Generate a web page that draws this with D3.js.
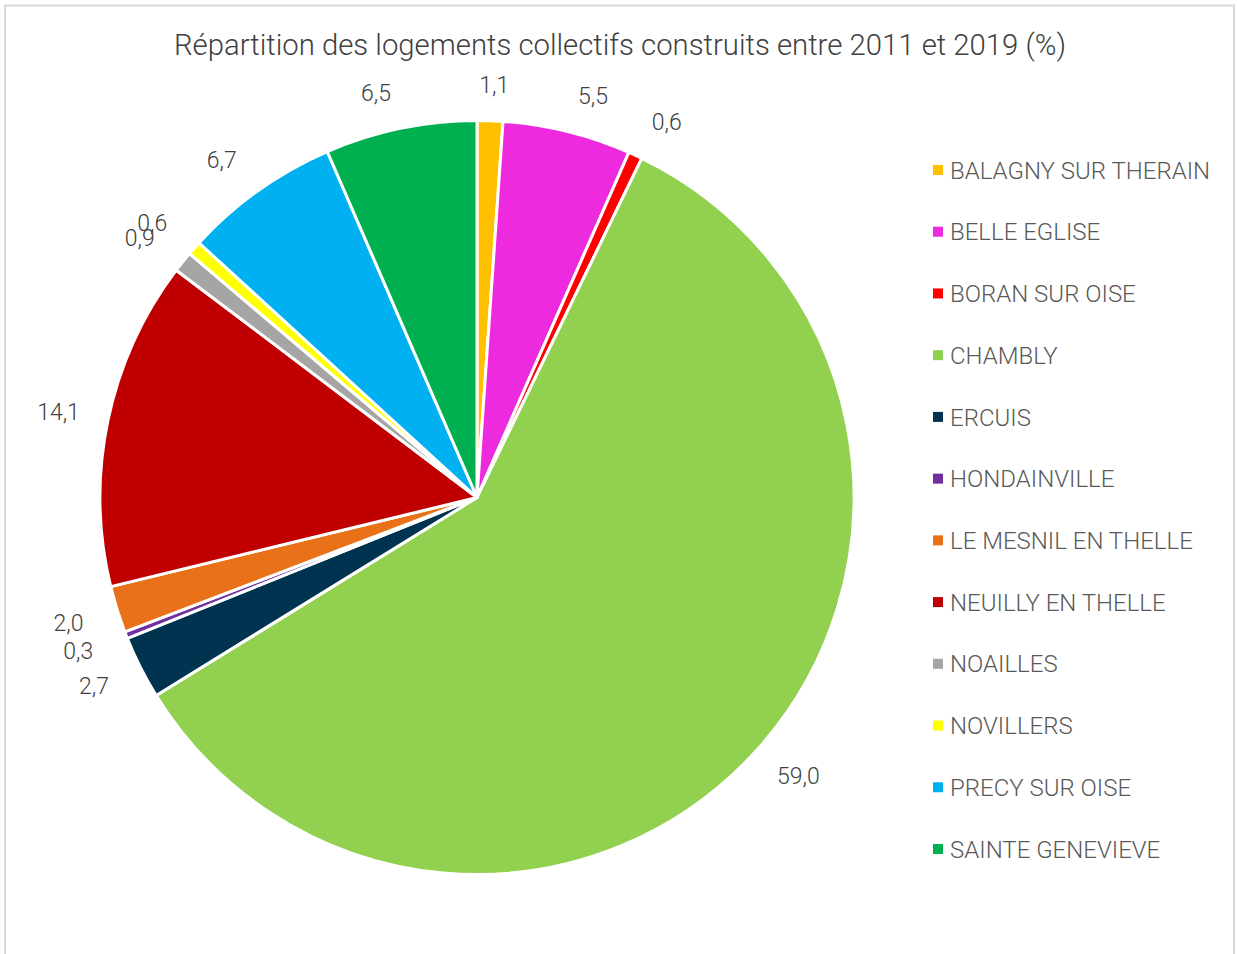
<!DOCTYPE html>
<html>
<head>
<meta charset="utf-8">
<script src="https://cdn.jsdelivr.net/npm/d3@7"></script>
<style>
  body { margin: 0; background: #fff; }
  text { font-family: Roboto, "Noto Sans", sans-serif; font-weight: 300; }
</style>
</head>
<body>
<div id="chart"></div>
<script>
var communes = ["BALAGNY SUR THERAIN", "BELLE EGLISE", "BORAN SUR OISE", "CHAMBLY", "ERCUIS",
  "HONDAINVILLE", "LE MESNIL EN THELLE", "NEUILLY EN THELLE", "NOAILLES", "NOVILLERS",
  "PRECY SUR OISE", "SAINTE GENEVIEVE"];
var parts = [1.1, 5.5, 0.6, 59.0, 2.7, 0.3, 2.0, 14.1, 0.9, 0.6, 6.7, 6.5];
var couleurs = ["#ffc000", "#ee2ade", "#ff0000", "#92d050", "#003350", "#7030a0",
  "#e97119", "#c00000", "#a5a5a5", "#ffff00", "#00b0f0", "#00b050"];
var titre = "Répartition des logements collectifs construits entre 2011 et 2019 (%)";

var width = 1237, height = 954;
var cx = 477, cy = 497.5, r = 377;

var svg = d3.select("#chart").append("svg")
  .attr("width", width)
  .attr("height", height);

// cadre du graphique
svg.append("rect")
  .attr("x", 5).attr("y", 5.5)
  .attr("width", 1229).attr("height", 1000)
  .style("fill", "#fff")
  .style("stroke", "#d9d9d9")
  .style("stroke-width", 2);

svg.append("text")
  .attr("x", 620).attr("y", 55)
  .attr("text-anchor", "middle")
  .style("font-size", "29.3px")
  .style("fill", "#404040")
  .text(titre);

var color = d3.scaleOrdinal().domain(communes).range(couleurs);

var pie = d3.pie().sort(null).value(function(d) { return d.v; });
var data = communes.map(function(c, i) { return { nom: c, v: parts[i] }; });
var arcs = pie(data);

var arc = d3.arc().innerRadius(0).outerRadius(r);

var g = svg.append("g").attr("transform", "translate(" + cx + "," + cy + ")");

g.selectAll(".part")
  .data(arcs)
  .enter().append("path")
  .attr("class", "part")
  .attr("d", arc)
  .style("fill", function(d) { return color(d.data.nom); })
  .style("stroke", "#fff")
  .style("stroke-width", 3)
  .style("stroke-linejoin", "round");

// étiquettes à l'extérieur (comme Excel : boîte poussée hors du cercle)
var fmt = function(v) { return d3.format(".1f")(v).replace(".", ","); };
var rl = r + 32;
function pos(d) {
  var a = (d.startAngle + d.endAngle) / 2;
  var s = Math.sin(a), c = Math.cos(a);
  var ox = 18 * Math.max(-1, Math.min(1, s / 0.2));
  var oy = -4 * Math.max(-1, Math.min(1, c / 0.3));
  return [rl * s + ox, -rl * c + oy];
}

g.selectAll(".etiq")
  .data(arcs)
  .enter().append("text")
  .attr("class", "etiq")
  .attr("x", function(d) { return pos(d)[0]; })
  .attr("y", function(d) { return pos(d)[1]; })
  .attr("text-anchor", "middle")
  .attr("dy", "0.35em")
  .style("font-size", "23px")
  .style("fill", "#404040")
  .text(function(d) { return fmt(d.data.v); });

// légende
var ly = d3.scalePoint().domain(communes).range([170, 849]);

var leg = svg.selectAll(".leg")
  .data(communes)
  .enter().append("g")
  .attr("class", "leg")
  .attr("transform", function(d) { return "translate(933," + ly(d) + ")"; });

leg.append("rect")
  .attr("x", 0).attr("y", -5)
  .attr("width", 10).attr("height", 10)
  .style("fill", function(d) { return color(d); });

leg.append("text")
  .attr("x", 17).attr("dy", "0.36em")
  .style("font-size", "24px")
  .style("fill", "#595959")
  .text(function(d) { return d; });
</script>
</body>
</html>
